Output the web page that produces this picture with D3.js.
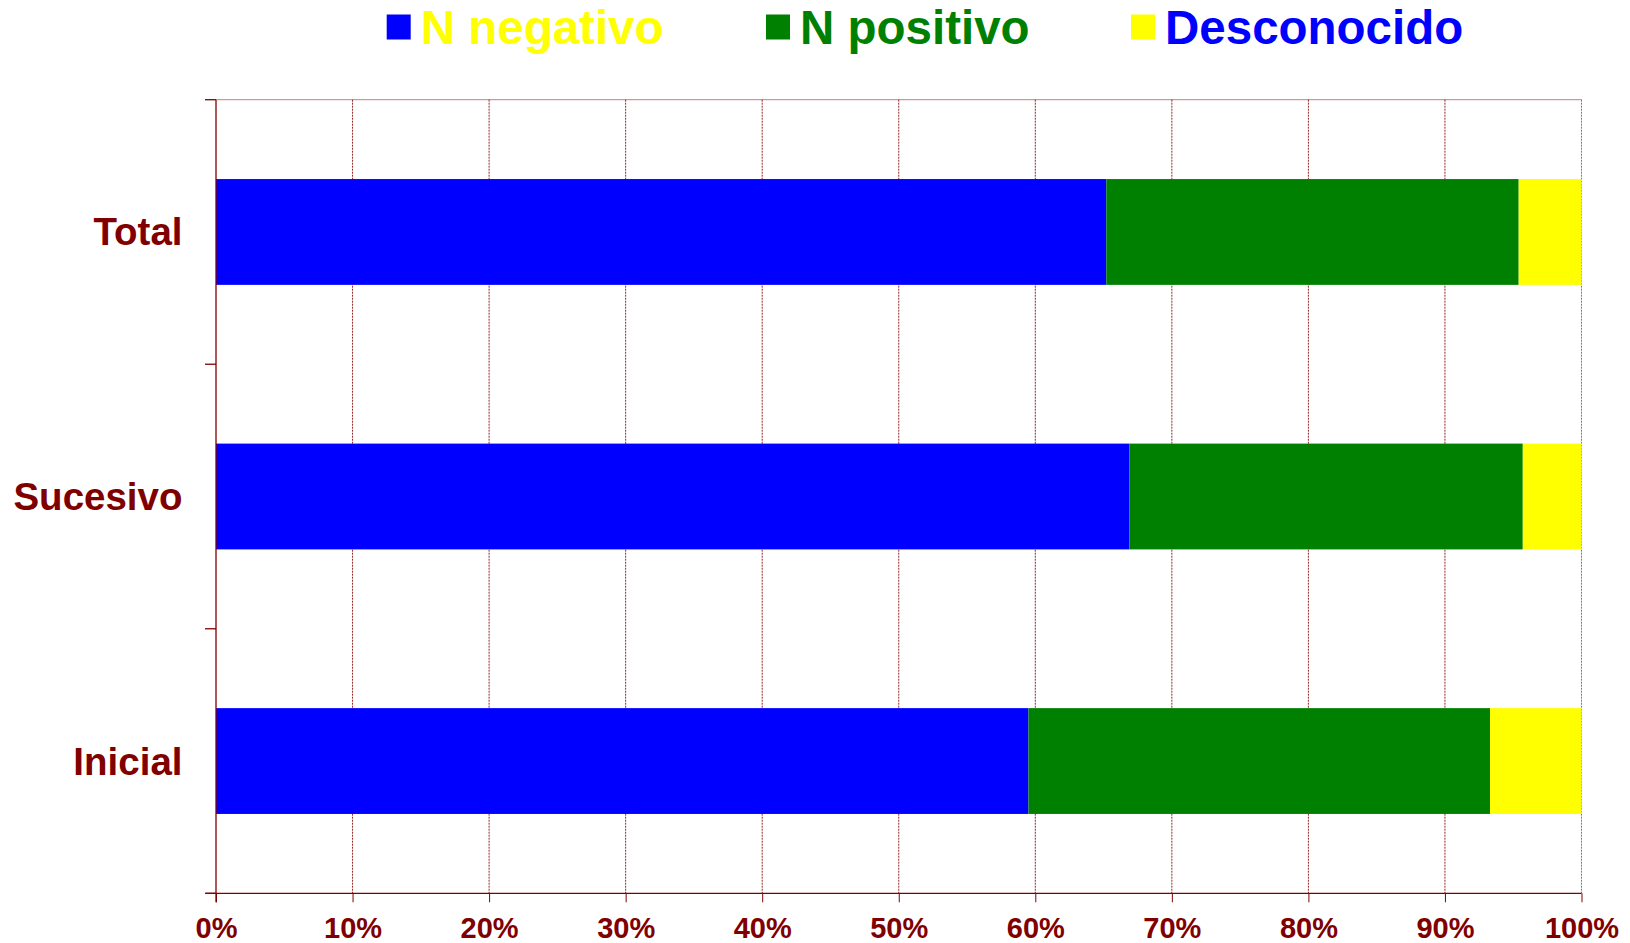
<!DOCTYPE html>
<html>
<head>
<meta charset="utf-8">
<script src="https://cdn.jsdelivr.net/npm/d3@7"></script>
<style>
    body { margin: 0; background: #fff; }
    svg text { font-family: "Liberation Sans", Arial, sans-serif; font-weight: bold; }
</style>
</head>
<body>
<div id="chart"></div>
<script>
// data (percent of each row)
var categories = ['Total', 'Sucesivo', 'Inicial'];
var nNegativo = [65.2, 66.9, 59.5];
var nPositivo = [30.2, 28.8, 33.8];
var desconocido = [4.6, 4.3, 6.7];

var seriesKeys = ['nNegativo', 'nPositivo', 'desconocido'];
var seriesNames = ['N negativo', 'N positivo', 'Desconocido'];
var seriesColors = ['#0000ff', '#008000', '#ffff00'];
var legendTextColors = ['#ffff00', '#008000', '#0000ff'];
var xTicks = [0, 10, 20, 30, 40, 50, 60, 70, 80, 90, 100];

var axisColor = '#800000';
var width = 1630, height = 943;
var plotLeft = 216, plotRight = 1581.5, plotTop = 99.7, plotBottom = 893.3;

var rows = categories.map(function (c, i) {
    return { cat: c, nNegativo: nNegativo[i], nPositivo: nPositivo[i], desconocido: desconocido[i] };
});

var svg = d3.select('#chart').append('svg')
    .attr('width', width)
    .attr('height', height);

var x = d3.scaleLinear().domain([0, 100]).range([plotLeft, plotRight]);
var y = d3.scaleBand().domain(categories).range([plotTop, plotBottom])
    .paddingInner(0.6).paddingOuter(0.3);

// gridlines
svg.append('g')
    .selectAll('line')
    .data(xTicks.filter(function (d) { return d > 0; }))
    .enter()
    .append('line')
    .attr('x1', function (d) { return x(d); })
    .attr('x2', function (d) { return x(d); })
    .attr('y1', plotTop)
    .attr('y2', plotBottom)
    .attr('stroke', axisColor)
    .attr('stroke-width', 1)
    .attr('stroke-dasharray', '2,1')
    .attr('stroke-opacity', function (d) { return d === 100 ? 0.6 : 0.85; });

// top border
svg.append('line')
    .attr('x1', plotLeft).attr('x2', plotRight)
    .attr('y1', plotTop).attr('y2', plotTop)
    .attr('stroke', axisColor)
    .attr('stroke-opacity', 0.4)
    .attr('stroke-width', 1.2);

// stacked bars
var stack = d3.stack().keys(seriesKeys)(rows);

svg.append('g')
    .selectAll('g')
    .data(stack)
    .enter()
    .append('g')
    .attr('fill', function (d, i) { return seriesColors[i]; })
    .selectAll('rect')
    .data(function (d) { return d; })
    .enter()
    .append('rect')
    .attr('x', function (d) { return x(d[0]); })
    .attr('width', function (d) { return x(d[1]) - x(d[0]); })
    .attr('y', function (d) { return y(d.data.cat); })
    .attr('height', y.bandwidth());

// bottom axis
var xAxis = svg.append('g')
    .attr('transform', 'translate(0,' + plotBottom + ')')
    .call(d3.axisBottom(x).tickValues(xTicks).tickSize(9).tickSizeOuter(0)
        .tickFormat(function (d) { return d + '%'; }));

xAxis.select('.domain').attr('stroke', axisColor).attr('stroke-width', 1.3)
    .attr('d', 'M' + (plotLeft - 10) + ',0H' + plotRight);
xAxis.selectAll('.tick line').attr('stroke', axisColor);
xAxis.selectAll('.tick text')
    .attr('fill', axisColor)
    .attr('font-size', 29)
    .attr('y', 44.5)
    .attr('dy', 0);

// left axis
svg.append('line')
    .attr('x1', plotLeft).attr('x2', plotLeft)
    .attr('y1', plotTop).attr('y2', plotBottom + 9)
    .attr('stroke', axisColor)
    .attr('stroke-width', 1.3);

var boundaries = d3.range(categories.length + 1).map(function (i) { return plotTop + i * y.step(); });
svg.append('g')
    .selectAll('line')
    .data(boundaries)
    .enter()
    .append('line')
    .attr('x1', plotLeft - 11).attr('x2', plotLeft)
    .attr('y1', function (d) { return d; })
    .attr('y2', function (d) { return d; })
    .attr('stroke', axisColor)
    .attr('stroke-width', 1.3);

svg.append('g')
    .selectAll('text')
    .data(categories)
    .enter()
    .append('text')
    .attr('x', 182.5)
    .attr('y', function (d) { return y(d) + y.bandwidth() / 2 + 13.5; })
    .attr('text-anchor', 'end')
    .attr('fill', axisColor)
    .attr('font-size', 38.5)
    .text(function (d) { return d; });

// legend
var legendX = [386.7, 766, 1131];
var legend = svg.append('g')
    .selectAll('g')
    .data(seriesNames)
    .enter()
    .append('g')
    .attr('transform', function (d, i) { return 'translate(' + legendX[i] + ',0)'; });

legend.append('rect')
    .attr('x', 0)
    .attr('y', 14.5)
    .attr('width', 24)
    .attr('height', 25)
    .attr('fill', function (d, i) { return seriesColors[i]; });

legend.append('text')
    .attr('x', 34)
    .attr('y', 44)
    .attr('font-size', 47.5)
    .attr('fill', function (d, i) { return legendTextColors[i]; })
    .text(function (d) { return d; });
</script>
</body>
</html>
